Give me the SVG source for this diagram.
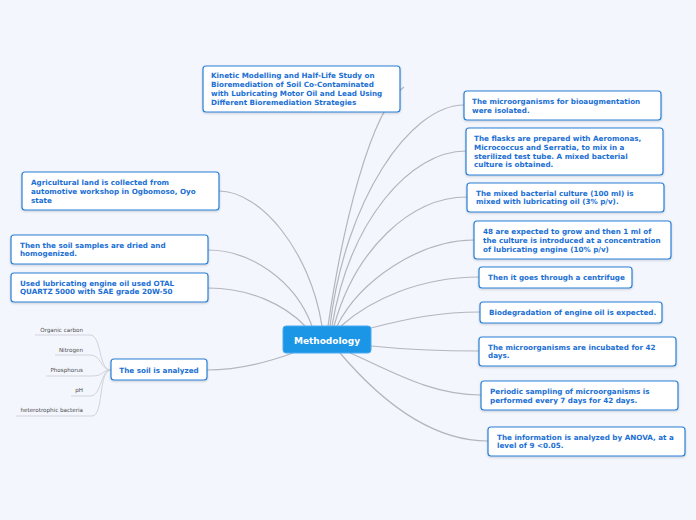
<svg xmlns="http://www.w3.org/2000/svg" width="696" height="520" viewBox="0 0 696 520">
<style>
.bg{fill:#f3f6fd}
.box{fill:#ffffff;stroke:#2a80d6;stroke-width:1.2;filter:url(#sh)}
.t{font-family:"DejaVu Sans",Verdana,sans-serif;font-weight:bold;font-size:7.2px;fill:#1a6fd4}
.root{fill:#1b96e6;stroke:#4aaaf0;stroke-width:1}
.rt{font-family:"DejaVu Sans",Verdana,sans-serif;font-weight:bold;font-size:9px;fill:#ffffff}
.c{fill:none;stroke:#b4b5bf;stroke-width:1.2}
.sc{fill:none;stroke:#d2d3da;stroke-width:1}
.s{font-family:"DejaVu Sans",Verdana,sans-serif;font-size:5.6px;fill:#4a4a4a;text-anchor:end}
</style>
<defs>
<filter id="sh" x="-10%" y="-20%" width="120%" height="150%">
<feDropShadow dx="0" dy="1" stdDeviation="0.8" flood-color="#000" flood-opacity="0.18"/>
</filter>
</defs>
<rect class="bg" width="696" height="520"/>
<g id="connectors">
<path class="c" d="M328,326 C342,230 370,110 404,87"/>
<path class="c" d="M330,326 C345,200 410,105 464,105"/>
<path class="c" d="M332,326 C350,220 410,151 466,151"/>
<path class="c" d="M334,326 C355,250 410,197 467,197"/>
<path class="c" d="M337,326 C360,280 420,240 474,240"/>
<path class="c" d="M341,326 C370,300 420,277 479,277"/>
<path class="c" d="M371,328 C410,318 440,312 480,312"/>
<path class="c" d="M371,346 C410,350 440,351 479,351"/>
<path class="c" d="M350,353 C390,370 430,395 481,395"/>
<path class="c" d="M340,353 C380,400 430,441 488,441"/>
<path class="c" d="M322,326 C310,250 260,191 219,191"/>
<path class="c" d="M312,326 C295,280 250,250 208,250"/>
<path class="c" d="M305,326 C285,305 250,288 208,288"/>
<path class="c" d="M293,353 C260,365 235,370 207,370"/>
<path class="sc" d="M111,370 C98,370 102,335 90,335 H35"/>
<path class="sc" d="M111,370 C100,370 102,355 90,355 H55"/>
<path class="sc" d="M111,370 C102,370 104,376 92,376 H46"/>
<path class="sc" d="M111,370 C100,370 102,396 90,396 H71"/>
<path class="sc" d="M111,370 C98,370 104,416 92,416 H16"/>
</g>
<g id="root">
<rect class="root" x="283" y="326" width="88" height="27" rx="3"/>
<text class="rt" x="327" y="343.5" text-anchor="middle">Methodology</text>
</g>
<g id="n-kinetic">
<rect class="box" x="203" y="66" width="197" height="46" rx="3"/>
<text class="t" x="211" y="77.5">Kinetic Modelling and Half-Life Study on</text>
<text class="t" x="211" y="86.5">Bioremediation of Soil Co-Contaminated</text>
<text class="t" x="211" y="95.5">with Lubricating Motor Oil and Lead Using</text>
<text class="t" x="211" y="104.5">Different Bioremediation Strategies</text>
</g>
<g id="n1">
<rect class="box" x="464" y="91" width="197" height="29" rx="3"/>
<text class="t" x="472" y="104">The microorganisms for bioaugmentation</text>
<text class="t" x="472" y="112.5">were isolated.</text>
</g>
<g id="n2">
<rect class="box" x="466" y="128" width="197" height="47" rx="3"/>
<text class="t" x="474" y="141">The flasks are prepared with Aeromonas,</text>
<text class="t" x="474" y="149.8">Micrococcus and Serratia, to mix in a</text>
<text class="t" x="474" y="158.6">sterilized test tube. A mixed bacterial</text>
<text class="t" x="474" y="167.4">culture is obtained.</text>
</g>
<g id="n3">
<rect class="box" x="467" y="183" width="197" height="29" rx="3"/>
<text class="t" x="476" y="195.5">The mixed bacterial culture (100 ml) is</text>
<text class="t" x="476" y="204.3">mixed with lubricating oil (3% p/v).</text>
</g>
<g id="n4">
<rect class="box" x="474" y="221" width="197" height="38" rx="3"/>
<text class="t" x="483" y="234">48 are expected to grow and then 1 ml of</text>
<text class="t" x="483" y="242.8">the culture is introduced at a concentration</text>
<text class="t" x="483" y="251.6">of lubricating engine (10% p/v)</text>
</g>
<g id="n5">
<rect class="box" x="479" y="267" width="153" height="21" rx="3"/>
<text class="t" x="488" y="280">Then it goes through a centrifuge</text>
</g>
<g id="n6">
<rect class="box" x="480" y="302" width="182" height="21" rx="3"/>
<text class="t" x="489" y="315">Biodegradation of engine oil is expected.</text>
</g>
<g id="n7">
<rect class="box" x="479" y="337" width="197" height="29" rx="3"/>
<text class="t" x="488" y="349.5">The microorganisms are incubated for 42</text>
<text class="t" x="488" y="358.3">days.</text>
</g>
<g id="n8">
<rect class="box" x="481" y="381" width="197" height="29" rx="3"/>
<text class="t" x="490" y="394">Periodic sampling of microorganisms is</text>
<text class="t" x="490" y="402.8">performed every 7 days for 42 days.</text>
</g>
<g id="n9">
<rect class="box" x="488" y="427" width="197" height="29" rx="3"/>
<text class="t" x="497" y="439.5">The information is analyzed by ANOVA, at a</text>
<text class="t" x="497" y="448.3">level of 9 &lt;0.05.</text>
</g>
<g id="n10">
<rect class="box" x="22" y="172" width="197" height="38" rx="3"/>
<text class="t" x="31" y="185">Agricultural land is collected from</text>
<text class="t" x="31" y="193.8">automotive workshop in Ogbomoso, Oyo</text>
<text class="t" x="31" y="202.6">state</text>
</g>
<g id="n11">
<rect class="box" x="11" y="235" width="197" height="29" rx="3"/>
<text class="t" x="20" y="247.5">Then the soil samples are dried and</text>
<text class="t" x="20" y="256.3">homogenized.</text>
</g>
<g id="n12">
<rect class="box" x="11" y="273" width="197" height="29" rx="3"/>
<text class="t" x="20" y="285.5">Used lubricating engine oil used OTAL</text>
<text class="t" x="20" y="294.3">QUARTZ 5000 with SAE grade 20W-50</text>
</g>
<g id="n13">
<rect class="box" x="111" y="359" width="96" height="21" rx="3"/>
<text class="t" x="159" y="372.5" text-anchor="middle">The soil is analyzed</text>
</g>
<g id="sub">
<text class="s" x="83" y="332">Organic carbon</text>
<text class="s" x="83" y="352">Nitrogen</text>
<text class="s" x="83" y="372">Phosphorus</text>
<text class="s" x="83" y="392">pH</text>
<text class="s" x="83" y="412">heterotrophic bacteria</text>
</g>
</svg>
